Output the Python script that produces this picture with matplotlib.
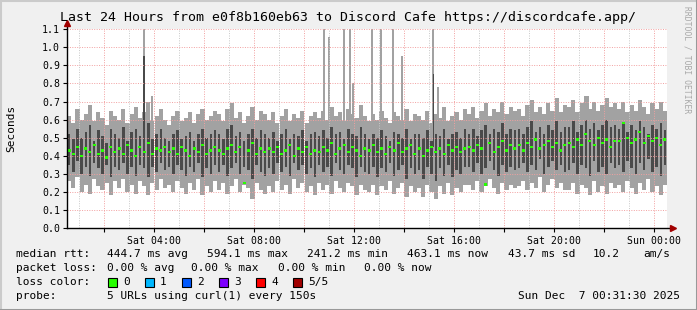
import matplotlib

matplotlib.use("Agg")

import matplotlib.pyplot as plt
import numpy as np

plt.rcParams["font.family"] = ["DejaVu Sans Mono"]

# time of the left edge: Sat 00:31:30, one bin = 10 minutes
start_hour = 0.525
bin_hours = 1 / 6

# light smoke (full spread of the probes), seconds
smoke_top = [
    0.62, 0.58, 0.66, 0.60, 0.63, 0.68, 0.59, 0.64, 0.61, 0.57, 0.65, 0.62,
    0.60, 0.66, 0.58, 0.63, 0.67, 0.61, 0.64, 0.70, 0.59, 0.62, 0.66, 0.60,
    0.57, 0.62, 0.65, 0.59, 0.61, 0.64, 0.58, 0.63, 0.66, 0.60, 0.62, 0.65,
    0.63, 0.59, 0.66, 0.69, 0.61, 0.64, 0.58, 0.62, 0.67, 0.60, 0.65, 0.63,
    0.60, 0.64, 0.58, 0.62, 0.66, 0.59, 0.63, 0.61, 0.65, 0.58, 0.62, 0.64,
    0.61, 0.65, 0.60, 0.67, 0.62, 0.64, 0.59, 0.66, 0.63, 0.61, 0.68, 0.62,
    0.59, 0.63, 0.60, 0.65, 0.61, 0.58, 0.64, 0.62, 0.60, 0.66, 0.59, 0.63,
    0.62, 0.60, 0.65, 0.58, 0.63, 0.61, 0.67, 0.59, 0.62, 0.64, 0.60, 0.66,
    0.63, 0.67, 0.61, 0.65, 0.69, 0.62, 0.66, 0.64, 0.70, 0.63, 0.67, 0.65,
    0.66, 0.62, 0.68, 0.71, 0.64, 0.67, 0.63, 0.69, 0.65, 0.72, 0.64, 0.68,
    0.67, 0.71, 0.64, 0.69, 0.73, 0.66, 0.70, 0.65, 0.68, 0.72, 0.67, 0.69,
    0.66, 0.70, 0.64, 0.68, 0.65, 0.71, 0.67, 0.63, 0.69, 0.66, 0.70, 0.65,
]
smoke_bottom = [
    0.26, 0.22, 0.28, 0.20, 0.24, 0.19, 0.27, 0.23, 0.21, 0.25, 0.18, 0.26,
    0.22, 0.27, 0.20, 0.24, 0.19, 0.26, 0.23, 0.18, 0.25, 0.21, 0.27, 0.22,
    0.24, 0.20, 0.26, 0.22, 0.19, 0.25, 0.21, 0.27, 0.18, 0.23, 0.20, 0.26,
    0.21, 0.25, 0.19, 0.23, 0.27, 0.20, 0.24, 0.22, 0.16, 0.25, 0.21, 0.19,
    0.23, 0.20, 0.26, 0.21, 0.24, 0.19, 0.27, 0.22, 0.25, 0.20, 0.23, 0.18,
    0.25, 0.21, 0.24, 0.19, 0.26, 0.22, 0.20, 0.25, 0.23, 0.18, 0.24, 0.21,
    0.20, 0.24, 0.18, 0.23, 0.21, 0.26, 0.19, 0.22, 0.25, 0.17, 0.23, 0.20,
    0.22, 0.17, 0.24, 0.20, 0.16, 0.23, 0.19, 0.25, 0.18, 0.22, 0.20, 0.24,
    0.24, 0.21, 0.26, 0.20, 0.23, 0.27, 0.22, 0.19, 0.25, 0.21, 0.24, 0.22,
    0.23, 0.26, 0.21, 0.25, 0.22, 0.28, 0.20, 0.24, 0.27, 0.22, 0.25, 0.21,
    0.21, 0.25, 0.19, 0.24, 0.22, 0.18, 0.26, 0.20, 0.23, 0.19, 0.25, 0.22,
    0.24, 0.20, 0.26, 0.22, 0.19, 0.25, 0.21, 0.27, 0.20, 0.23, 0.18, 0.24,
]
# dark smoke (inner spread)
band_top = [
    0.52, 0.49, 0.55, 0.50, 0.53, 0.57, 0.48, 0.54, 0.51, 0.47, 0.55, 0.52,
    0.50, 0.56, 0.48, 0.53, 0.55, 0.51, 0.54, 0.58, 0.49, 0.52, 0.55, 0.50,
    0.48, 0.52, 0.54, 0.49, 0.51, 0.53, 0.48, 0.52, 0.55, 0.50, 0.52, 0.54,
    0.52, 0.49, 0.55, 0.57, 0.51, 0.53, 0.48, 0.52, 0.55, 0.50, 0.54, 0.52,
    0.50, 0.53, 0.48, 0.52, 0.55, 0.49, 0.52, 0.51, 0.54, 0.48, 0.52, 0.53,
    0.51, 0.54, 0.50, 0.56, 0.52, 0.53, 0.49, 0.55, 0.52, 0.51, 0.56, 0.52,
    0.49, 0.52, 0.50, 0.54, 0.51, 0.48, 0.53, 0.52, 0.50, 0.55, 0.49, 0.52,
    0.52, 0.50, 0.54, 0.48, 0.52, 0.51, 0.55, 0.49, 0.52, 0.53, 0.50, 0.55,
    0.52, 0.55, 0.51, 0.54, 0.57, 0.52, 0.55, 0.53, 0.58, 0.52, 0.55, 0.54,
    0.55, 0.52, 0.56, 0.59, 0.53, 0.56, 0.52, 0.57, 0.54, 0.59, 0.53, 0.56,
    0.56, 0.59, 0.53, 0.57, 0.60, 0.55, 0.58, 0.54, 0.57, 0.60, 0.56, 0.57,
    0.55, 0.58, 0.53, 0.57, 0.54, 0.59, 0.56, 0.52, 0.57, 0.55, 0.58, 0.54,
]
band_bottom = [
    0.35, 0.31, 0.37, 0.30, 0.34, 0.29, 0.36, 0.33, 0.30, 0.35, 0.28, 0.34,
    0.32, 0.36, 0.30, 0.34, 0.29, 0.35, 0.33, 0.28, 0.34, 0.31, 0.36, 0.32,
    0.34, 0.30, 0.35, 0.32, 0.29, 0.34, 0.31, 0.36, 0.28, 0.33, 0.30, 0.35,
    0.31, 0.35, 0.29, 0.33, 0.36, 0.30, 0.34, 0.32, 0.27, 0.35, 0.31, 0.29,
    0.33, 0.30, 0.36, 0.31, 0.34, 0.29, 0.36, 0.32, 0.35, 0.30, 0.33, 0.28,
    0.35, 0.31, 0.34, 0.29, 0.36, 0.32, 0.30, 0.35, 0.33, 0.28, 0.34, 0.31,
    0.30, 0.34, 0.28, 0.33, 0.31, 0.36, 0.29, 0.32, 0.35, 0.27, 0.33, 0.30,
    0.32, 0.27, 0.34, 0.30, 0.26, 0.33, 0.29, 0.35, 0.28, 0.32, 0.30, 0.34,
    0.34, 0.31, 0.36, 0.30, 0.33, 0.37, 0.32, 0.29, 0.35, 0.31, 0.34, 0.32,
    0.33, 0.36, 0.31, 0.35, 0.32, 0.38, 0.30, 0.34, 0.37, 0.32, 0.35, 0.31,
    0.32, 0.36, 0.30, 0.35, 0.33, 0.29, 0.37, 0.31, 0.34, 0.30, 0.36, 0.33,
    0.35, 0.31, 0.37, 0.33, 0.30, 0.36, 0.32, 0.38, 0.31, 0.34, 0.29, 0.35,
]
median_rtt = [
    0.43, 0.41, 0.45, 0.40, 0.44, 0.42, 0.46, 0.41, 0.43, 0.39, 0.45, 0.42,
    0.44, 0.41, 0.46, 0.43, 0.40, 0.45, 0.42, 0.47, 0.41, 0.44, 0.43, 0.45,
    0.42, 0.44, 0.41, 0.45, 0.43, 0.40, 0.44, 0.42, 0.46, 0.41, 0.43, 0.45,
    0.43, 0.41, 0.44, 0.46, 0.42, 0.45, 0.25, 0.43, 0.47, 0.41, 0.44, 0.42,
    0.44, 0.42, 0.45, 0.41, 0.43, 0.46, 0.40, 0.44, 0.42, 0.45, 0.41, 0.43,
    0.42, 0.45, 0.43, 0.47, 0.41, 0.44, 0.46, 0.42, 0.45, 0.43, 0.40, 0.44,
    0.43, 0.46, 0.42, 0.44, 0.41, 0.45, 0.43, 0.47, 0.42, 0.44, 0.46, 0.41,
    0.44, 0.40, 0.43, 0.45, 0.42, 0.44, 0.41, 0.46, 0.43, 0.45, 0.42, 0.44,
    0.45, 0.43, 0.46, 0.44, 0.24, 0.47, 0.42, 0.45, 0.48, 0.43, 0.46, 0.44,
    0.46, 0.43, 0.47, 0.45, 0.49, 0.44, 0.46, 0.48, 0.45, 0.47, 0.43, 0.46,
    0.47, 0.45, 0.49, 0.46, 0.52, 0.48, 0.46, 0.50, 0.47, 0.49, 0.45, 0.48,
    0.48, 0.58, 0.50, 0.47, 0.49, 0.53, 0.47, 0.51, 0.48, 0.50, 0.46, 0.49,
]

# single slow probes sticking out of the smoke
spike_hours = [3.60, 3.93, 10.80, 11.00, 11.60, 11.85, 11.97, 12.72,
               13.08, 13.57, 13.93, 15.17, 15.37, 21.37]
spike_tops = [1.12, 0.73, 1.12, 1.06, 1.12, 1.12, 0.80, 1.12,
              1.12, 1.12, 0.95, 1.12, 0.78, 0.73]
dark_spike_hours = [3.60, 15.17]
dark_spike_tops = [0.95, 0.85]

tick_hours = [4, 8, 12, 16, 20, 24]
tick_labels = ["Sat 04:00", "Sat 08:00", "Sat 12:00",
               "Sat 16:00", "Sat 20:00", "Sun 00:00"]

loss_labels = ["0", "1", "2", "3", "4", "5/5"]
loss_colors = ["#26ff00", "#00b8ff", "#0059ff", "#7e00ff", "#ff0000", "#a10000"]

W, H = 697, 310


def fx(x):
    return x / W


def fy(y):
    return 1 - y / H


fig = plt.figure(figsize=(W / 100, H / 100), dpi=100, facecolor="#f0f0f0")

# 3d frame round the picture
fig.add_artist(plt.Line2D([0, 0], [0, 1], color="#cbcbcb", lw=2.2, transform=fig.transFigure))
fig.add_artist(plt.Line2D([0, 1], [1, 1], color="#cbcbcb", lw=2.2, transform=fig.transFigure))
fig.add_artist(plt.Line2D([1, 1], [0, 1], color="#999999", lw=2.2, transform=fig.transFigure))
fig.add_artist(plt.Line2D([0, 1], [0, 0], color="#999999", lw=2.2, transform=fig.transFigure))

ax = fig.add_axes([fx(67), fy(228), fx(667) - fx(67), fy(29.3) - fy(228)])
ax.set_facecolor("white")

x = start_hour + (np.arange(len(median_rtt)) + 0.5) * bin_hours
lo = np.array(smoke_bottom)
hi = np.array(smoke_top)
blo = np.array(band_bottom)
bhi = np.array(band_top)
med = np.array(median_rtt)

ax.bar(x, hi - lo, bottom=lo, width=bin_hours, color="#a2a2a2", lw=0, zorder=2)
ax.bar(x, bhi - blo, bottom=blo, width=bin_hours * 0.6, color="#4a4a4a", lw=0, zorder=2.1)
ax.bar(spike_hours, np.array(spike_tops) - 0.45, bottom=0.45, width=0.07,
       color="#a2a2a2", lw=0, zorder=2)
ax.bar(dark_spike_hours, np.array(dark_spike_tops) - 0.45, bottom=0.45, width=0.05,
       color="#4a4a4a", lw=0, zorder=2.1)
ax.bar(x, 0.013, bottom=med - 0.0065, width=bin_hours * 0.7,
       color=loss_colors[0], lw=0, zorder=3)

# grid on top of the smoke, like rrdtool
for h in range(1, 25):
    if h % 2 == 0:
        ax.axvline(h, color="#f2a0a0", lw=0.7, ls=(0, (1, 1.5)), zorder=2.5)
    else:
        ax.axvline(h, color="#c8c8c8", lw=0.7, ls=(0, (1, 1.5)), zorder=2.5)
for v in np.arange(0.1, 1.15, 0.1):
    ax.axhline(v, color="#f2a0a0", lw=0.7, ls=(0, (1, 1.5)), zorder=2.5)

ax.set_xlim(start_hour, start_hour + 24)
ax.set_ylim(0, 1.1)
ax.set_xticks(range(2, 25, 2))
ax.set_xticklabels(["" if h not in tick_hours else tick_labels[tick_hours.index(h)]
                    for h in range(2, 25, 2)])
ax.set_yticks(np.round(np.arange(0, 1.15, 0.1), 1))
ax.set_yticklabels([f"{v:.1f}" for v in np.arange(0, 1.15, 0.1)])
ax.tick_params(axis="both", length=3, width=0.8, labelsize=7.1, pad=2)
ax.tick_params(axis="x", pad=3)
for side in ("top", "right", "left", "bottom"):
    ax.spines[side].set_visible(False)

# axes with arrows
ax.plot([0, 0], [0, 1.03], color="black", lw=1, transform=ax.transAxes, clip_on=False, zorder=4)
ax.plot([0, 1.01], [0, 0], color="black", lw=1, transform=ax.transAxes, clip_on=False, zorder=4)
ax.plot(0, 1.03, marker="^", ms=4.5, color="#a10000", transform=ax.transAxes, clip_on=False, zorder=5)
ax.plot(1.01, 0, marker=">", ms=4.5, color="#a10000", transform=ax.transAxes, clip_on=False, zorder=5)

fig.text(fx(348), fy(18), "Last 24 Hours from e0f8b160eb63 to Discord Cafe https://discordcafe.app/",
         ha="center", va="center", fontsize=9.5)
fig.text(fx(11), fy(128), "Seconds", rotation=90, ha="center", va="center", fontsize=8)
fig.text(fx(687), fy(60), "RRDTOOL / TOBI OETIKER", rotation=270, ha="center", va="center",
         fontsize=5.8, color="#a8a8a8")

lf = 8
fig.text(fx(16), fy(254), "median rtt:", va="center", fontsize=lf)
for xp, s in zip([107, 207, 307, 407, 508, 593, 643],
                 ["444.7 ms avg", "594.1 ms max", "241.2 ms min", "463.1 ms now",
                  "43.7 ms sd", "10.2", "am/s"]):
    fig.text(fx(xp), fy(254), s, va="center", fontsize=lf)

fig.text(fx(16), fy(268), "packet loss:", va="center", fontsize=lf)
for xp, s in zip([107, 191, 278, 364],
                 ["0.00 % avg", "0.00 % max", "0.00 % min", "0.00 % now"]):
    fig.text(fx(xp), fy(268), s, va="center", fontsize=lf)

fig.text(fx(16), fy(282), "loss color:", va="center", fontsize=lf)
for i, (lab, col) in enumerate(zip(loss_labels, loss_colors)):
    bx = 108 + i * 37
    fig.add_artist(plt.Rectangle((fx(bx), fy(287)), fx(9), 9 / H, facecolor=col,
                                 edgecolor="black", lw=0.8, transform=fig.transFigure))
    fig.text(fx(bx + 15), fy(282), lab, va="center", fontsize=lf)

fig.text(fx(16), fy(296), "probe:", va="center", fontsize=lf)
fig.text(fx(107), fy(296), "5 URLs using curl(1) every 150s", va="center", fontsize=lf)
fig.text(fx(680), fy(296), "Sun Dec  7 00:31:30 2025", ha="right", va="center", fontsize=lf)

fig.savefig("out.png", dpi=100, facecolor=fig.get_facecolor())
